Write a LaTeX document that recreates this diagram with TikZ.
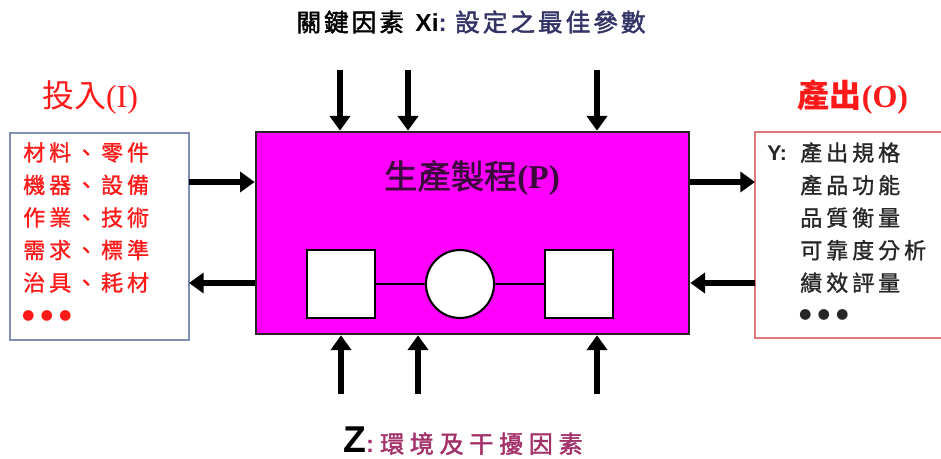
\documentclass[tikz,border=0pt]{standalone}
\usepackage{fontspec}
\setmainfont{Liberation Serif}
\setsansfont{Liberation Sans}
\newfontfamily\cjk{Noto Sans CJK TC}
\usetikzlibrary{arrows.meta}
\definecolor{inred}{HTML}{FF1A1A}
\definecolor{navy}{HTML}{333366}
\definecolor{maroon}{HTML}{A3316A}
\definecolor{lbord}{HTML}{7F8FB5}
\definecolor{rbord}{HTML}{E07A7A}
\definecolor{procfill}{HTML}{FF00FF}
\definecolor{ptitle}{HTML}{3A0A3A}
\begin{document}
\begin{tikzpicture}[x=0.75pt,y=-0.75pt,
  arr/.style={line width=4.2pt,-{Triangle[length=11pt,width=15pt]}},
  blk/.style={draw=black,line width=1.6pt,fill=white,minimum size=51pt,inner sep=0pt},
  lst/.style={align=left,anchor=north west,inner sep=0pt,font=\cjk\fontsize{16.5pt}{24.4pt}\selectfont\addfontfeature{LetterSpace=18,FakeBold=1.2}},
  dots/.style={font=\cjk\fontsize{9pt}{10pt}\selectfont\addfontfeature{LetterSpace=55}}
]
\useasboundingbox (0,0) rectangle (941,459);
% main process box
\node[draw=black!85,line width=2pt,fill=procfill,minimum width=433*0.75pt,minimum height=202*0.75pt,inner sep=0pt] (P) at (472.5,233) {};
\node[text=ptitle,font=\fontsize{25pt}{28pt}\selectfont] (Pt) at (472,178) {{\cjk\addfontfeature{FakeBold=1.5}生產製程}\textbf{(P)}};
\node[blk,rectangle] (s1) at (341,284) {};
\node[blk,circle] (c1) at (460,284) {};
\node[blk,rectangle] (s2) at (579,284) {};
\draw[line width=1.6pt] (s1) -- (c1) -- (s2);
% top label and arrows
\node[font=\fontsize{18.5pt}{20pt}\selectfont] (top) at (471,22) {{\cjk\addfontfeature{LetterSpace=12,FakeBold=1.8}關鍵因素 }\textbf{\sffamily Xi}\textcolor{navy}{\textbf{\sffamily :} {\cjk\addfontfeature{LetterSpace=12,FakeBold=1.8}設定之最佳參數}}};
\coordinate (t1) at (340,70);
\coordinate (t2) at (408,70);
\coordinate (t3) at (597,70);
\draw[arr] (t1) -- (P.north -| t1);
\draw[arr] (t2) -- (P.north -| t2);
\draw[arr] (t3) -- (P.north -| t3);
% bottom label and arrows
\node[font=\fontsize{18pt}{20pt}\selectfont] (bot) at (463,441) {\textbf{\sffamily\fontsize{28pt}{28pt}\selectfont Z}\textcolor{maroon}{\textbf{\sffamily :} {\cjk\addfontfeature{LetterSpace=24,FakeBold=1.8}環境及干擾因素}}};
\coordinate (b1) at (341,394);
\coordinate (b2) at (418,394);
\coordinate (b3) at (597,394);
\draw[arr] (b1) -- (P.south -| b1);
\draw[arr] (b2) -- (P.south -| b2);
\draw[arr] (b3) -- (P.south -| b3);
% input box
\node[text=inred,font=\fontsize{24pt}{26pt}\selectfont] (Lt) at (90,97) {{\cjk 投入}(I)};
\node[draw=lbord,line width=0.9pt,minimum width=179*0.75pt,minimum height=207*0.75pt,inner sep=0pt] (L) at (99.5,236.5) {};
\node[lst,text=inred] (Ltx) at (23,142) {材料、零件\\機器、設備\\作業、技術\\需求、標準\\治具、耗材};
\node[dots,text=inred,anchor=west,inner sep=0pt] (Ld) at (22,316) {●●●};
\coordinate (li) at (189,182);
\coordinate (lo) at (189,283);
\draw[arr] (li) -- (P.west |- li);
\draw[arr] (P.west |- lo) -- (lo);
% output box
\node[text=inred,font=\fontsize{24pt}{26pt}\selectfont\bfseries] (Rt) at (853,97) {{\cjk 產出}(O)};
\node[draw=rbord,line width=0.9pt,minimum width=200*0.75pt,minimum height=206*0.75pt,inner sep=0pt] (R) at (855,235) {};
\node[font=\sffamily\bfseries\fontsize{16pt}{18pt}\selectfont,anchor=west,inner sep=0pt,text=black!85] (Ry) at (767,153) {Y:};
\node[lst,text=black!85] (Rtx) at (800,142) {產出規格\\產品功能\\品質衡量\\可靠度分析\\績效評量};
\node[dots,text=black!85,anchor=west,inner sep=0pt] (Rd) at (799,315) {●●●};
\coordinate (ro) at (755,182);
\coordinate (ri) at (755,283);
\draw[arr] (P.east |- ro) -- (ro);
\draw[arr] (ri) -- (P.east |- ri);
\end{tikzpicture}
\end{document}
